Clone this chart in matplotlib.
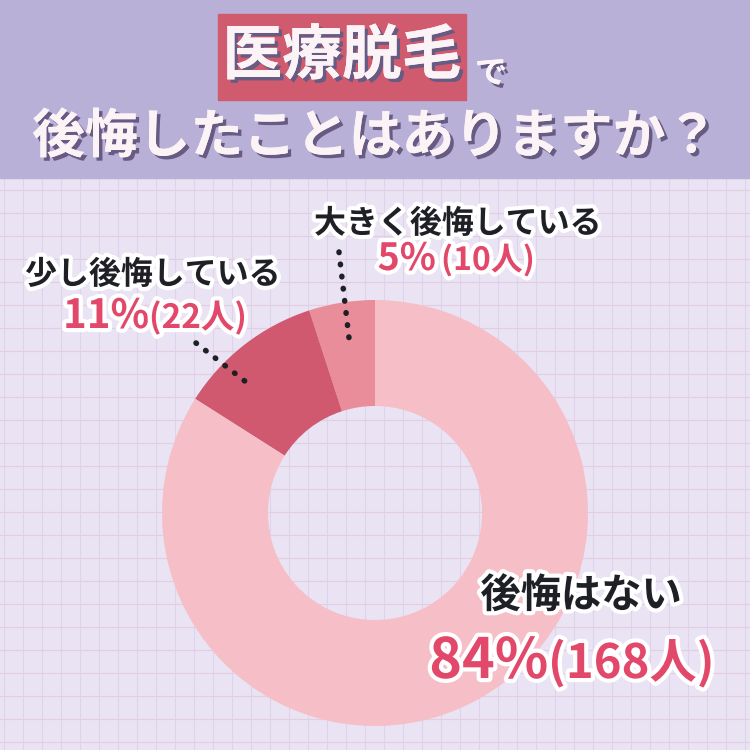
import numpy as np
import matplotlib
matplotlib.use('Agg')
import matplotlib.pyplot as plt
import matplotlib.patheffects as pe
from matplotlib.patches import Rectangle

plt.rcParams['font.family'] = ['Noto Sans CJK JP', 'DejaVu Sans']
plt.rcParams['font.weight'] = 'bold'

# データ（反時計回りに上から）
labels = ['大きく後悔している', '少し後悔している', '後悔はない']
percents = [5, 11, 84]
counts = [10, 22, 168]
colors = ['#e98d9b', '#d0596f', '#f6bfc8']

title_box = '医療脱毛'
title_rest = 'で'
title_line2 = '後悔したことはありますか？'

RED = '#e2486a'
DARK = '#1f1f26'
outline = [pe.withStroke(linewidth=6, foreground='white')]
shadow = [pe.withSimplePatchShadow(offset=(2.5, -2.5), shadow_rgbFace='#675b84', alpha=1.0),
          pe.Normal()]

fig = plt.figure(figsize=(7.5, 7.5), dpi=100)
fig.patch.set_facecolor('#e9e3f4')
ax = fig.add_axes([0, 0, 1, 1])

# 背景のマス目
for x in np.arange(4, 750, 19):
    ax.axvline(x, color='#ddd4eb', lw=0.8, zorder=0)
for y in np.arange(190, 750, 23):
    ax.axhline(y, color='#e5cde1', lw=0.8, zorder=0)

# ヘッダー
ax.add_patch(Rectangle((0, 0), 750, 178, color='#b9b0d8', zorder=1))
ax.add_patch(Rectangle((218, 14), 248, 86, color='#d05a6e', zorder=2))
ax.text(342, 57, title_box, fontsize=43, color='#fbf3f6', ha='center', va='center',
        path_effects=shadow, zorder=3)
ax.text(491, 74, title_rest, fontsize=23, color='#fbf3f6', ha='center', va='center',
        path_effects=shadow, zorder=3)
ax.text(375, 137, title_line2, fontsize=38, color='#fbf3f6', ha='center', va='center',
        path_effects=shadow, zorder=3)

# ドーナツ（y軸を反転しているので counterclock=False で見た目は反時計回り）
ax.pie(percents, colors=colors, startangle=-90, counterclock=False,
       radius=213, center=(375, 513), wedgeprops=dict(width=106, linewidth=0))

# 引き出し線
dots = dict(ls=(0, (0.1, 2.1)), lw=4, color=DARK, dash_capstyle='round', zorder=4)
ax.plot([339, 349], [252, 338], **dots)
ax.plot([196, 246], [343, 382], **dots)

# ラベル
ax.text(458, 224, labels[0], fontsize=23, color=DARK, ha='center', va='center',
        path_effects=outline, zorder=5)
ax.text(436, 270, f'{percents[0]}%', fontsize=27, color=RED, ha='right', va='baseline',
        path_effects=outline, zorder=5)
ax.text(441, 270, f'({counts[0]}人)', fontsize=23, color=RED, ha='left', va='baseline',
        path_effects=outline, zorder=5)

ax.text(153, 275, labels[1], fontsize=23, color=DARK, ha='center', va='center',
        path_effects=outline, zorder=5)
ax.text(149, 328, f'{percents[1]}%', fontsize=29, color=RED, ha='right', va='baseline',
        path_effects=outline, zorder=5)
ax.text(149, 328, f'({counts[1]}人)', fontsize=24, color=RED, ha='left', va='baseline',
        path_effects=outline, zorder=5)

ax.text(581, 596, labels[2], fontsize=29, color=DARK, ha='center', va='center',
        path_effects=outline, zorder=5)
ax.text(548, 678, f'{percents[2]}%', fontsize=40, color=RED, ha='right', va='baseline',
        path_effects=outline, zorder=5)
ax.text(548, 678, f'({counts[2]}人)', fontsize=34, color=RED, ha='left', va='baseline',
        path_effects=outline, zorder=5)

ax.set_xlim(0, 750)
ax.set_ylim(750, 0)
ax.set_aspect('equal')
ax.axis('off')

fig.savefig('out.png', dpi=100)
